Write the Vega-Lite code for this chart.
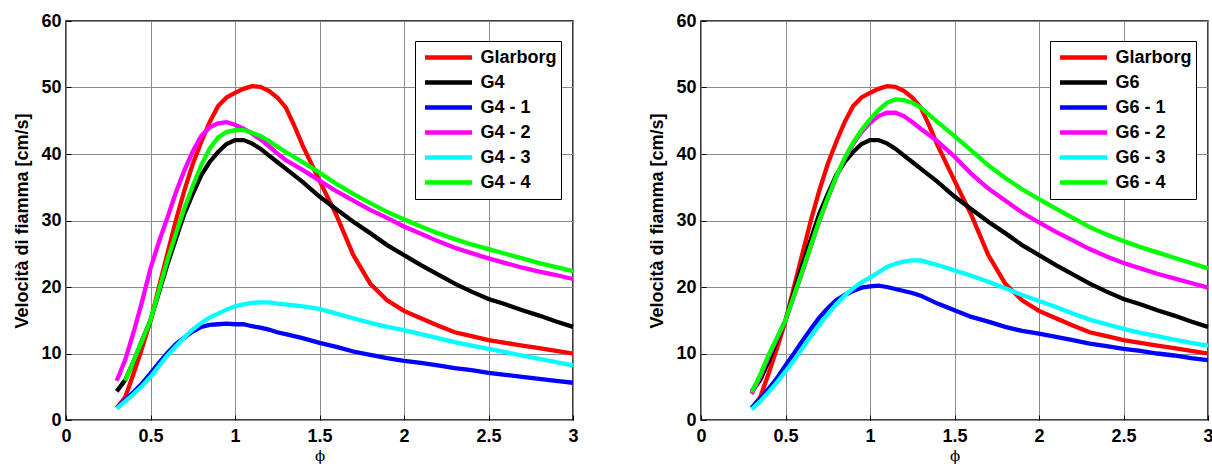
{
"$schema": "https://vega.github.io/schema/vega-lite/v6.json",
"padding": {"left": 12, "top": 11, "right": 0, "bottom": 0},
"background": "white",
"datasets": {
"g4": [
{"s":"Glarborg","phi":0.3,"v":1.8},{"s":"Glarborg","phi":0.35,"v":3.4},{"s":"Glarborg","phi":0.4,"v":7.0},{"s":"Glarborg","phi":0.45,"v":10.8},{"s":"Glarborg","phi":0.5,"v":14.9},{"s":"Glarborg","phi":0.55,"v":20.0},{"s":"Glarborg","phi":0.6,"v":25.0},{"s":"Glarborg","phi":0.65,"v":30.0},{"s":"Glarborg","phi":0.7,"v":34.5},{"s":"Glarborg","phi":0.75,"v":38.5},{"s":"Glarborg","phi":0.8,"v":41.8},{"s":"Glarborg","phi":0.85,"v":44.8},{"s":"Glarborg","phi":0.9,"v":47.2},{"s":"Glarborg","phi":0.95,"v":48.5},{"s":"Glarborg","phi":1.0,"v":49.2},{"s":"Glarborg","phi":1.05,"v":49.8},{"s":"Glarborg","phi":1.1,"v":50.2},{"s":"Glarborg","phi":1.15,"v":50.1},{"s":"Glarborg","phi":1.2,"v":49.5},{"s":"Glarborg","phi":1.25,"v":48.5},{"s":"Glarborg","phi":1.3,"v":47.0},{"s":"Glarborg","phi":1.35,"v":44.3},{"s":"Glarborg","phi":1.4,"v":41.3},{"s":"Glarborg","phi":1.5,"v":36.0},{"s":"Glarborg","phi":1.6,"v":30.8},{"s":"Glarborg","phi":1.7,"v":24.8},{"s":"Glarborg","phi":1.8,"v":20.5},{"s":"Glarborg","phi":1.9,"v":18.0},{"s":"Glarborg","phi":2.0,"v":16.4},{"s":"Glarborg","phi":2.1,"v":15.3},{"s":"Glarborg","phi":2.2,"v":14.2},{"s":"Glarborg","phi":2.3,"v":13.2},{"s":"Glarborg","phi":2.4,"v":12.6},{"s":"Glarborg","phi":2.5,"v":12.0},{"s":"Glarborg","phi":2.6,"v":11.6},{"s":"Glarborg","phi":2.7,"v":11.2},{"s":"Glarborg","phi":2.8,"v":10.8},{"s":"Glarborg","phi":2.9,"v":10.4},{"s":"Glarborg","phi":3.0,"v":10.0},
{"s":"G4","phi":0.3,"v":4.3},{"s":"G4","phi":0.35,"v":6.0},{"s":"G4","phi":0.4,"v":8.8},{"s":"G4","phi":0.45,"v":12.0},{"s":"G4","phi":0.5,"v":15.0},{"s":"G4","phi":0.55,"v":19.2},{"s":"G4","phi":0.6,"v":23.4},{"s":"G4","phi":0.65,"v":27.2},{"s":"G4","phi":0.7,"v":31.0},{"s":"G4","phi":0.75,"v":34.0},{"s":"G4","phi":0.8,"v":36.8},{"s":"G4","phi":0.85,"v":38.8},{"s":"G4","phi":0.9,"v":40.3},{"s":"G4","phi":0.95,"v":41.5},{"s":"G4","phi":1.0,"v":42.1},{"s":"G4","phi":1.05,"v":42.1},{"s":"G4","phi":1.1,"v":41.6},{"s":"G4","phi":1.15,"v":40.8},{"s":"G4","phi":1.2,"v":39.8},{"s":"G4","phi":1.25,"v":38.8},{"s":"G4","phi":1.3,"v":37.8},{"s":"G4","phi":1.4,"v":35.8},{"s":"G4","phi":1.5,"v":33.6},{"s":"G4","phi":1.6,"v":31.7},{"s":"G4","phi":1.7,"v":29.8},{"s":"G4","phi":1.8,"v":28.1},{"s":"G4","phi":1.9,"v":26.3},{"s":"G4","phi":2.0,"v":24.8},{"s":"G4","phi":2.1,"v":23.3},{"s":"G4","phi":2.2,"v":21.9},{"s":"G4","phi":2.3,"v":20.5},{"s":"G4","phi":2.4,"v":19.3},{"s":"G4","phi":2.5,"v":18.2},{"s":"G4","phi":2.6,"v":17.4},{"s":"G4","phi":2.7,"v":16.5},{"s":"G4","phi":2.8,"v":15.7},{"s":"G4","phi":2.9,"v":14.8},{"s":"G4","phi":3.0,"v":14.0},
{"s":"G4 - 1","phi":0.3,"v":1.8},{"s":"G4 - 1","phi":0.35,"v":3.0},{"s":"G4 - 1","phi":0.4,"v":4.2},{"s":"G4 - 1","phi":0.45,"v":5.5},{"s":"G4 - 1","phi":0.5,"v":7.0},{"s":"G4 - 1","phi":0.55,"v":8.6},{"s":"G4 - 1","phi":0.6,"v":10.1},{"s":"G4 - 1","phi":0.65,"v":11.4},{"s":"G4 - 1","phi":0.7,"v":12.4},{"s":"G4 - 1","phi":0.75,"v":13.3},{"s":"G4 - 1","phi":0.8,"v":14.0},{"s":"G4 - 1","phi":0.85,"v":14.3},{"s":"G4 - 1","phi":0.9,"v":14.4},{"s":"G4 - 1","phi":0.95,"v":14.5},{"s":"G4 - 1","phi":1.0,"v":14.4},{"s":"G4 - 1","phi":1.05,"v":14.4},{"s":"G4 - 1","phi":1.1,"v":14.1},{"s":"G4 - 1","phi":1.15,"v":13.9},{"s":"G4 - 1","phi":1.2,"v":13.6},{"s":"G4 - 1","phi":1.25,"v":13.2},{"s":"G4 - 1","phi":1.3,"v":12.9},{"s":"G4 - 1","phi":1.4,"v":12.3},{"s":"G4 - 1","phi":1.5,"v":11.6},{"s":"G4 - 1","phi":1.6,"v":11.0},{"s":"G4 - 1","phi":1.7,"v":10.3},{"s":"G4 - 1","phi":1.8,"v":9.8},{"s":"G4 - 1","phi":1.9,"v":9.3},{"s":"G4 - 1","phi":2.0,"v":8.9},{"s":"G4 - 1","phi":2.1,"v":8.6},{"s":"G4 - 1","phi":2.2,"v":8.2},{"s":"G4 - 1","phi":2.3,"v":7.8},{"s":"G4 - 1","phi":2.4,"v":7.5},{"s":"G4 - 1","phi":2.5,"v":7.1},{"s":"G4 - 1","phi":2.6,"v":6.8},{"s":"G4 - 1","phi":2.7,"v":6.5},{"s":"G4 - 1","phi":2.8,"v":6.2},{"s":"G4 - 1","phi":2.9,"v":5.9},{"s":"G4 - 1","phi":3.0,"v":5.6},
{"s":"G4 - 2","phi":0.3,"v":5.9},{"s":"G4 - 2","phi":0.35,"v":9.0},{"s":"G4 - 2","phi":0.4,"v":13.2},{"s":"G4 - 2","phi":0.45,"v":17.8},{"s":"G4 - 2","phi":0.5,"v":22.8},{"s":"G4 - 2","phi":0.55,"v":26.8},{"s":"G4 - 2","phi":0.6,"v":30.4},{"s":"G4 - 2","phi":0.65,"v":34.2},{"s":"G4 - 2","phi":0.7,"v":37.5},{"s":"G4 - 2","phi":0.75,"v":40.4},{"s":"G4 - 2","phi":0.8,"v":42.7},{"s":"G4 - 2","phi":0.85,"v":44.0},{"s":"G4 - 2","phi":0.9,"v":44.6},{"s":"G4 - 2","phi":0.95,"v":44.8},{"s":"G4 - 2","phi":1.0,"v":44.4},{"s":"G4 - 2","phi":1.05,"v":43.8},{"s":"G4 - 2","phi":1.1,"v":43.1},{"s":"G4 - 2","phi":1.15,"v":42.2},{"s":"G4 - 2","phi":1.2,"v":41.2},{"s":"G4 - 2","phi":1.25,"v":40.1},{"s":"G4 - 2","phi":1.3,"v":39.1},{"s":"G4 - 2","phi":1.4,"v":37.6},{"s":"G4 - 2","phi":1.5,"v":36.0},{"s":"G4 - 2","phi":1.6,"v":34.4},{"s":"G4 - 2","phi":1.7,"v":33.0},{"s":"G4 - 2","phi":1.8,"v":31.6},{"s":"G4 - 2","phi":1.9,"v":30.4},{"s":"G4 - 2","phi":2.0,"v":29.1},{"s":"G4 - 2","phi":2.1,"v":28.0},{"s":"G4 - 2","phi":2.2,"v":26.9},{"s":"G4 - 2","phi":2.3,"v":25.9},{"s":"G4 - 2","phi":2.4,"v":25.1},{"s":"G4 - 2","phi":2.5,"v":24.3},{"s":"G4 - 2","phi":2.6,"v":23.6},{"s":"G4 - 2","phi":2.7,"v":22.9},{"s":"G4 - 2","phi":2.8,"v":22.3},{"s":"G4 - 2","phi":2.9,"v":21.8},{"s":"G4 - 2","phi":3.0,"v":21.2},
{"s":"G4 - 3","phi":0.3,"v":1.7},{"s":"G4 - 3","phi":0.35,"v":2.8},{"s":"G4 - 3","phi":0.4,"v":3.9},{"s":"G4 - 3","phi":0.45,"v":5.1},{"s":"G4 - 3","phi":0.5,"v":6.5},{"s":"G4 - 3","phi":0.55,"v":8.1},{"s":"G4 - 3","phi":0.6,"v":9.7},{"s":"G4 - 3","phi":0.65,"v":11.1},{"s":"G4 - 3","phi":0.7,"v":12.4},{"s":"G4 - 3","phi":0.75,"v":13.6},{"s":"G4 - 3","phi":0.8,"v":14.6},{"s":"G4 - 3","phi":0.85,"v":15.4},{"s":"G4 - 3","phi":0.9,"v":16.0},{"s":"G4 - 3","phi":0.95,"v":16.6},{"s":"G4 - 3","phi":1.0,"v":17.1},{"s":"G4 - 3","phi":1.05,"v":17.4},{"s":"G4 - 3","phi":1.1,"v":17.6},{"s":"G4 - 3","phi":1.15,"v":17.7},{"s":"G4 - 3","phi":1.2,"v":17.7},{"s":"G4 - 3","phi":1.25,"v":17.5},{"s":"G4 - 3","phi":1.3,"v":17.4},{"s":"G4 - 3","phi":1.4,"v":17.1},{"s":"G4 - 3","phi":1.5,"v":16.7},{"s":"G4 - 3","phi":1.6,"v":16.0},{"s":"G4 - 3","phi":1.7,"v":15.3},{"s":"G4 - 3","phi":1.8,"v":14.6},{"s":"G4 - 3","phi":1.9,"v":14.0},{"s":"G4 - 3","phi":2.0,"v":13.5},{"s":"G4 - 3","phi":2.1,"v":12.9},{"s":"G4 - 3","phi":2.2,"v":12.3},{"s":"G4 - 3","phi":2.3,"v":11.7},{"s":"G4 - 3","phi":2.4,"v":11.2},{"s":"G4 - 3","phi":2.5,"v":10.7},{"s":"G4 - 3","phi":2.6,"v":10.2},{"s":"G4 - 3","phi":2.7,"v":9.7},{"s":"G4 - 3","phi":2.8,"v":9.2},{"s":"G4 - 3","phi":2.9,"v":8.7},{"s":"G4 - 3","phi":3.0,"v":8.2},
{"s":"G4 - 4","phi":0.35,"v":5.9},{"s":"G4 - 4","phi":0.4,"v":8.9},{"s":"G4 - 4","phi":0.45,"v":11.9},{"s":"G4 - 4","phi":0.5,"v":15.0},{"s":"G4 - 4","phi":0.55,"v":19.5},{"s":"G4 - 4","phi":0.6,"v":24.0},{"s":"G4 - 4","phi":0.65,"v":28.0},{"s":"G4 - 4","phi":0.7,"v":31.8},{"s":"G4 - 4","phi":0.75,"v":35.2},{"s":"G4 - 4","phi":0.8,"v":38.3},{"s":"G4 - 4","phi":0.85,"v":40.8},{"s":"G4 - 4","phi":0.9,"v":42.5},{"s":"G4 - 4","phi":0.95,"v":43.3},{"s":"G4 - 4","phi":1.0,"v":43.6},{"s":"G4 - 4","phi":1.05,"v":43.6},{"s":"G4 - 4","phi":1.1,"v":43.2},{"s":"G4 - 4","phi":1.15,"v":42.7},{"s":"G4 - 4","phi":1.2,"v":42.0},{"s":"G4 - 4","phi":1.25,"v":41.1},{"s":"G4 - 4","phi":1.3,"v":40.3},{"s":"G4 - 4","phi":1.4,"v":38.8},{"s":"G4 - 4","phi":1.5,"v":37.2},{"s":"G4 - 4","phi":1.6,"v":35.5},{"s":"G4 - 4","phi":1.7,"v":34.0},{"s":"G4 - 4","phi":1.8,"v":32.6},{"s":"G4 - 4","phi":1.9,"v":31.3},{"s":"G4 - 4","phi":2.0,"v":30.2},{"s":"G4 - 4","phi":2.1,"v":29.1},{"s":"G4 - 4","phi":2.2,"v":28.1},{"s":"G4 - 4","phi":2.3,"v":27.2},{"s":"G4 - 4","phi":2.4,"v":26.4},{"s":"G4 - 4","phi":2.5,"v":25.7},{"s":"G4 - 4","phi":2.6,"v":25.0},{"s":"G4 - 4","phi":2.7,"v":24.3},{"s":"G4 - 4","phi":2.8,"v":23.6},{"s":"G4 - 4","phi":2.9,"v":23.0},{"s":"G4 - 4","phi":3.0,"v":22.4}
],
"g6": [
{"s":"Glarborg","phi":0.3,"v":1.8},{"s":"Glarborg","phi":0.35,"v":3.4},{"s":"Glarborg","phi":0.4,"v":7.0},{"s":"Glarborg","phi":0.45,"v":10.8},{"s":"Glarborg","phi":0.5,"v":14.9},{"s":"Glarborg","phi":0.55,"v":20.0},{"s":"Glarborg","phi":0.6,"v":25.0},{"s":"Glarborg","phi":0.65,"v":30.0},{"s":"Glarborg","phi":0.7,"v":34.5},{"s":"Glarborg","phi":0.75,"v":38.5},{"s":"Glarborg","phi":0.8,"v":41.8},{"s":"Glarborg","phi":0.85,"v":44.8},{"s":"Glarborg","phi":0.9,"v":47.2},{"s":"Glarborg","phi":0.95,"v":48.5},{"s":"Glarborg","phi":1.0,"v":49.2},{"s":"Glarborg","phi":1.05,"v":49.8},{"s":"Glarborg","phi":1.1,"v":50.2},{"s":"Glarborg","phi":1.15,"v":50.1},{"s":"Glarborg","phi":1.2,"v":49.5},{"s":"Glarborg","phi":1.25,"v":48.5},{"s":"Glarborg","phi":1.3,"v":47.0},{"s":"Glarborg","phi":1.35,"v":44.3},{"s":"Glarborg","phi":1.4,"v":41.3},{"s":"Glarborg","phi":1.5,"v":36.0},{"s":"Glarborg","phi":1.6,"v":30.8},{"s":"Glarborg","phi":1.7,"v":24.8},{"s":"Glarborg","phi":1.8,"v":20.5},{"s":"Glarborg","phi":1.9,"v":18.0},{"s":"Glarborg","phi":2.0,"v":16.4},{"s":"Glarborg","phi":2.1,"v":15.3},{"s":"Glarborg","phi":2.2,"v":14.2},{"s":"Glarborg","phi":2.3,"v":13.2},{"s":"Glarborg","phi":2.4,"v":12.6},{"s":"Glarborg","phi":2.5,"v":12.0},{"s":"Glarborg","phi":2.6,"v":11.6},{"s":"Glarborg","phi":2.7,"v":11.2},{"s":"Glarborg","phi":2.8,"v":10.8},{"s":"Glarborg","phi":2.9,"v":10.4},{"s":"Glarborg","phi":3.0,"v":10.0},
{"s":"G6","phi":0.3,"v":4.3},{"s":"G6","phi":0.35,"v":6.0},{"s":"G6","phi":0.4,"v":8.8},{"s":"G6","phi":0.45,"v":12.0},{"s":"G6","phi":0.5,"v":15.0},{"s":"G6","phi":0.55,"v":19.2},{"s":"G6","phi":0.6,"v":23.4},{"s":"G6","phi":0.65,"v":27.2},{"s":"G6","phi":0.7,"v":31.0},{"s":"G6","phi":0.75,"v":34.0},{"s":"G6","phi":0.8,"v":36.8},{"s":"G6","phi":0.85,"v":38.8},{"s":"G6","phi":0.9,"v":40.3},{"s":"G6","phi":0.95,"v":41.5},{"s":"G6","phi":1.0,"v":42.1},{"s":"G6","phi":1.05,"v":42.1},{"s":"G6","phi":1.1,"v":41.6},{"s":"G6","phi":1.15,"v":40.8},{"s":"G6","phi":1.2,"v":39.8},{"s":"G6","phi":1.25,"v":38.8},{"s":"G6","phi":1.3,"v":37.8},{"s":"G6","phi":1.4,"v":35.8},{"s":"G6","phi":1.5,"v":33.6},{"s":"G6","phi":1.6,"v":31.7},{"s":"G6","phi":1.7,"v":29.8},{"s":"G6","phi":1.8,"v":28.1},{"s":"G6","phi":1.9,"v":26.3},{"s":"G6","phi":2.0,"v":24.8},{"s":"G6","phi":2.1,"v":23.3},{"s":"G6","phi":2.2,"v":21.9},{"s":"G6","phi":2.3,"v":20.5},{"s":"G6","phi":2.4,"v":19.3},{"s":"G6","phi":2.5,"v":18.2},{"s":"G6","phi":2.6,"v":17.4},{"s":"G6","phi":2.7,"v":16.5},{"s":"G6","phi":2.8,"v":15.7},{"s":"G6","phi":2.9,"v":14.8},{"s":"G6","phi":3.0,"v":14.0},
{"s":"G6 - 1","phi":0.3,"v":1.8},{"s":"G6 - 1","phi":0.35,"v":3.2},{"s":"G6 - 1","phi":0.4,"v":4.7},{"s":"G6 - 1","phi":0.45,"v":6.3},{"s":"G6 - 1","phi":0.5,"v":8.2},{"s":"G6 - 1","phi":0.55,"v":10.0},{"s":"G6 - 1","phi":0.6,"v":11.9},{"s":"G6 - 1","phi":0.65,"v":13.7},{"s":"G6 - 1","phi":0.7,"v":15.4},{"s":"G6 - 1","phi":0.75,"v":16.8},{"s":"G6 - 1","phi":0.8,"v":18.0},{"s":"G6 - 1","phi":0.85,"v":18.8},{"s":"G6 - 1","phi":0.9,"v":19.4},{"s":"G6 - 1","phi":0.95,"v":19.9},{"s":"G6 - 1","phi":1.0,"v":20.1},{"s":"G6 - 1","phi":1.05,"v":20.2},{"s":"G6 - 1","phi":1.1,"v":20.0},{"s":"G6 - 1","phi":1.15,"v":19.7},{"s":"G6 - 1","phi":1.2,"v":19.4},{"s":"G6 - 1","phi":1.25,"v":19.1},{"s":"G6 - 1","phi":1.3,"v":18.7},{"s":"G6 - 1","phi":1.4,"v":17.5},{"s":"G6 - 1","phi":1.5,"v":16.5},{"s":"G6 - 1","phi":1.6,"v":15.5},{"s":"G6 - 1","phi":1.7,"v":14.8},{"s":"G6 - 1","phi":1.8,"v":14.0},{"s":"G6 - 1","phi":1.9,"v":13.4},{"s":"G6 - 1","phi":2.0,"v":13.0},{"s":"G6 - 1","phi":2.1,"v":12.5},{"s":"G6 - 1","phi":2.2,"v":12.0},{"s":"G6 - 1","phi":2.3,"v":11.5},{"s":"G6 - 1","phi":2.4,"v":11.1},{"s":"G6 - 1","phi":2.5,"v":10.7},{"s":"G6 - 1","phi":2.6,"v":10.4},{"s":"G6 - 1","phi":2.7,"v":10.0},{"s":"G6 - 1","phi":2.8,"v":9.7},{"s":"G6 - 1","phi":2.9,"v":9.3},{"s":"G6 - 1","phi":3.0,"v":9.0},
{"s":"G6 - 2","phi":0.3,"v":3.9},{"s":"G6 - 2","phi":0.35,"v":6.5},{"s":"G6 - 2","phi":0.4,"v":9.5},{"s":"G6 - 2","phi":0.45,"v":12.2},{"s":"G6 - 2","phi":0.5,"v":15.0},{"s":"G6 - 2","phi":0.55,"v":18.6},{"s":"G6 - 2","phi":0.6,"v":22.3},{"s":"G6 - 2","phi":0.65,"v":26.1},{"s":"G6 - 2","phi":0.7,"v":29.9},{"s":"G6 - 2","phi":0.75,"v":33.3},{"s":"G6 - 2","phi":0.8,"v":36.5},{"s":"G6 - 2","phi":0.85,"v":39.3},{"s":"G6 - 2","phi":0.9,"v":41.5},{"s":"G6 - 2","phi":0.95,"v":43.3},{"s":"G6 - 2","phi":1.0,"v":44.7},{"s":"G6 - 2","phi":1.05,"v":45.7},{"s":"G6 - 2","phi":1.1,"v":46.2},{"s":"G6 - 2","phi":1.15,"v":46.2},{"s":"G6 - 2","phi":1.2,"v":45.7},{"s":"G6 - 2","phi":1.25,"v":44.8},{"s":"G6 - 2","phi":1.3,"v":43.8},{"s":"G6 - 2","phi":1.4,"v":41.9},{"s":"G6 - 2","phi":1.5,"v":39.6},{"s":"G6 - 2","phi":1.6,"v":37.0},{"s":"G6 - 2","phi":1.7,"v":34.8},{"s":"G6 - 2","phi":1.8,"v":33.0},{"s":"G6 - 2","phi":1.9,"v":31.2},{"s":"G6 - 2","phi":2.0,"v":29.7},{"s":"G6 - 2","phi":2.1,"v":28.3},{"s":"G6 - 2","phi":2.2,"v":27.0},{"s":"G6 - 2","phi":2.3,"v":25.7},{"s":"G6 - 2","phi":2.4,"v":24.6},{"s":"G6 - 2","phi":2.5,"v":23.6},{"s":"G6 - 2","phi":2.6,"v":22.8},{"s":"G6 - 2","phi":2.7,"v":22.0},{"s":"G6 - 2","phi":2.8,"v":21.3},{"s":"G6 - 2","phi":2.9,"v":20.6},{"s":"G6 - 2","phi":3.0,"v":19.9},
{"s":"G6 - 3","phi":0.3,"v":1.6},{"s":"G6 - 3","phi":0.35,"v":2.8},{"s":"G6 - 3","phi":0.4,"v":4.2},{"s":"G6 - 3","phi":0.45,"v":5.7},{"s":"G6 - 3","phi":0.5,"v":7.3},{"s":"G6 - 3","phi":0.55,"v":9.0},{"s":"G6 - 3","phi":0.6,"v":10.8},{"s":"G6 - 3","phi":0.65,"v":12.6},{"s":"G6 - 3","phi":0.7,"v":14.3},{"s":"G6 - 3","phi":0.75,"v":15.9},{"s":"G6 - 3","phi":0.8,"v":17.4},{"s":"G6 - 3","phi":0.85,"v":18.7},{"s":"G6 - 3","phi":0.9,"v":19.8},{"s":"G6 - 3","phi":0.95,"v":20.7},{"s":"G6 - 3","phi":1.0,"v":21.4},{"s":"G6 - 3","phi":1.05,"v":22.2},{"s":"G6 - 3","phi":1.1,"v":23.0},{"s":"G6 - 3","phi":1.15,"v":23.5},{"s":"G6 - 3","phi":1.2,"v":23.8},{"s":"G6 - 3","phi":1.25,"v":24.0},{"s":"G6 - 3","phi":1.3,"v":24.0},{"s":"G6 - 3","phi":1.4,"v":23.3},{"s":"G6 - 3","phi":1.5,"v":22.5},{"s":"G6 - 3","phi":1.6,"v":21.7},{"s":"G6 - 3","phi":1.7,"v":20.8},{"s":"G6 - 3","phi":1.8,"v":19.8},{"s":"G6 - 3","phi":1.9,"v":18.8},{"s":"G6 - 3","phi":2.0,"v":17.9},{"s":"G6 - 3","phi":2.1,"v":17.0},{"s":"G6 - 3","phi":2.2,"v":16.0},{"s":"G6 - 3","phi":2.3,"v":15.1},{"s":"G6 - 3","phi":2.4,"v":14.4},{"s":"G6 - 3","phi":2.5,"v":13.7},{"s":"G6 - 3","phi":2.6,"v":13.1},{"s":"G6 - 3","phi":2.7,"v":12.6},{"s":"G6 - 3","phi":2.8,"v":12.1},{"s":"G6 - 3","phi":2.9,"v":11.6},{"s":"G6 - 3","phi":3.0,"v":11.2},
{"s":"G6 - 4","phi":0.3,"v":4.2},{"s":"G6 - 4","phi":0.35,"v":6.8},{"s":"G6 - 4","phi":0.4,"v":9.8},{"s":"G6 - 4","phi":0.45,"v":12.4},{"s":"G6 - 4","phi":0.5,"v":15.0},{"s":"G6 - 4","phi":0.55,"v":18.7},{"s":"G6 - 4","phi":0.6,"v":22.4},{"s":"G6 - 4","phi":0.65,"v":26.2},{"s":"G6 - 4","phi":0.7,"v":30.0},{"s":"G6 - 4","phi":0.75,"v":33.4},{"s":"G6 - 4","phi":0.8,"v":36.6},{"s":"G6 - 4","phi":0.85,"v":39.4},{"s":"G6 - 4","phi":0.9,"v":41.7},{"s":"G6 - 4","phi":0.95,"v":43.6},{"s":"G6 - 4","phi":1.0,"v":45.2},{"s":"G6 - 4","phi":1.05,"v":46.6},{"s":"G6 - 4","phi":1.1,"v":47.7},{"s":"G6 - 4","phi":1.15,"v":48.2},{"s":"G6 - 4","phi":1.2,"v":48.1},{"s":"G6 - 4","phi":1.25,"v":47.7},{"s":"G6 - 4","phi":1.3,"v":47.0},{"s":"G6 - 4","phi":1.4,"v":44.8},{"s":"G6 - 4","phi":1.5,"v":42.7},{"s":"G6 - 4","phi":1.6,"v":40.5},{"s":"G6 - 4","phi":1.7,"v":38.3},{"s":"G6 - 4","phi":1.8,"v":36.4},{"s":"G6 - 4","phi":1.9,"v":34.7},{"s":"G6 - 4","phi":2.0,"v":33.2},{"s":"G6 - 4","phi":2.1,"v":31.8},{"s":"G6 - 4","phi":2.2,"v":30.4},{"s":"G6 - 4","phi":2.3,"v":29.0},{"s":"G6 - 4","phi":2.4,"v":27.9},{"s":"G6 - 4","phi":2.5,"v":26.9},{"s":"G6 - 4","phi":2.6,"v":26.0},{"s":"G6 - 4","phi":2.7,"v":25.2},{"s":"G6 - 4","phi":2.8,"v":24.4},{"s":"G6 - 4","phi":2.9,"v":23.6},{"s":"G6 - 4","phi":3.0,"v":22.8}
]
},
"config": {
"view": {"stroke": "black", "strokeWidth": 1.5},
"axis": {
"labelFont": "Liberation Sans", "labelFontWeight": "bold", "labelFontSize": 18, "labelColor": "black",
"titleFont": "Liberation Sans", "titleFontWeight": "bold", "titleFontSize": 18, "titleColor": "black",
"gridColor": "#8a8a8a", "gridOpacity": 1, "gridWidth": 1,
"domain": false, "ticks": true, "tickSize": -5, "tickColor": "black", "tickWidth": 1,
"labelFlush": false, "labelOverlap": false
},
"legend": {
"labelFont": "Liberation Sans", "labelFontWeight": "bold", "labelFontSize": 18, "labelColor": "black"
}
},
"spacing": 128,
"bounds": "flush",
"resolve": {"scale": {"color": "independent"}, "legend": {"color": "independent"}},
"hconcat": [
{
"width": 507, "height": 399,
"data": {"name": "g4"},
"mark": {"type": "line", "strokeWidth": 4.3},
"encoding": {
"x": {"field": "phi", "type": "quantitative", "scale": {"domain": [0, 3], "nice": false, "zero": false},
 "axis": {"values": [0, 0.5, 1, 1.5, 2, 2.5, 3], "format": "~g", "title": "ϕ", "titleFont": "DejaVu Serif", "titleFontWeight": "normal", "titleFontSize": 15, "titlePadding": 3, "labelPadding": 12}},
"y": {"field": "v", "type": "quantitative", "scale": {"domain": [0, 60], "nice": false},
 "axis": {"values": [0, 10, 20, 30, 40, 50, 60], "title": "Velocità di fiamma [cm/s]", "titlePadding": 9.5, "labelPadding": 10}},
"color": {"field": "s", "type": "nominal",
 "scale": {"domain": ["Glarborg", "G4", "G4 - 1", "G4 - 2", "G4 - 3", "G4 - 4"], "range": ["#ff0000", "#000000", "#0000ff", "#ff00ff", "#00ffff", "#00ff00"]},
 "legend": {"title": null, "orient": "none", "legendX": 349, "legendY": 20, "symbolType": "stroke", "symbolSize": 2209, "symbolStrokeWidth": 4.5, "clipHeight": 25, "rowPadding": 0, "padding": 4, "symbolOffset": 3.5, "labelOffset": 6, "strokeColor": "black", "fillColor": "white", "cornerRadius": 0, "labelExpr": "datum.label + '\u00a0'"}}
}
},
{
"width": 507, "height": 399,
"data": {"name": "g6"},
"mark": {"type": "line", "strokeWidth": 4.3},
"encoding": {
"x": {"field": "phi", "type": "quantitative", "scale": {"domain": [0, 3], "nice": false, "zero": false},
 "axis": {"values": [0, 0.5, 1, 1.5, 2, 2.5, 3], "format": "~g", "title": "ϕ", "titleFont": "DejaVu Serif", "titleFontWeight": "normal", "titleFontSize": 15, "titlePadding": 3, "labelPadding": 12}},
"y": {"field": "v", "type": "quantitative", "scale": {"domain": [0, 60], "nice": false},
 "axis": {"values": [0, 10, 20, 30, 40, 50, 60], "title": "Velocità di fiamma [cm/s]", "titlePadding": 9.5, "labelPadding": 10}},
"color": {"field": "s", "type": "nominal",
 "scale": {"domain": ["Glarborg", "G6", "G6 - 1", "G6 - 2", "G6 - 3", "G6 - 4"], "range": ["#ff0000", "#000000", "#0000ff", "#ff00ff", "#00ffff", "#00ff00"]},
 "legend": {"title": null, "orient": "none", "legendX": 349, "legendY": 20, "symbolType": "stroke", "symbolSize": 2209, "symbolStrokeWidth": 4.5, "clipHeight": 25, "rowPadding": 0, "padding": 4, "symbolOffset": 3.5, "labelOffset": 6, "strokeColor": "black", "fillColor": "white", "cornerRadius": 0, "labelExpr": "datum.label + '\u00a0'"}}
}
}
]
}
